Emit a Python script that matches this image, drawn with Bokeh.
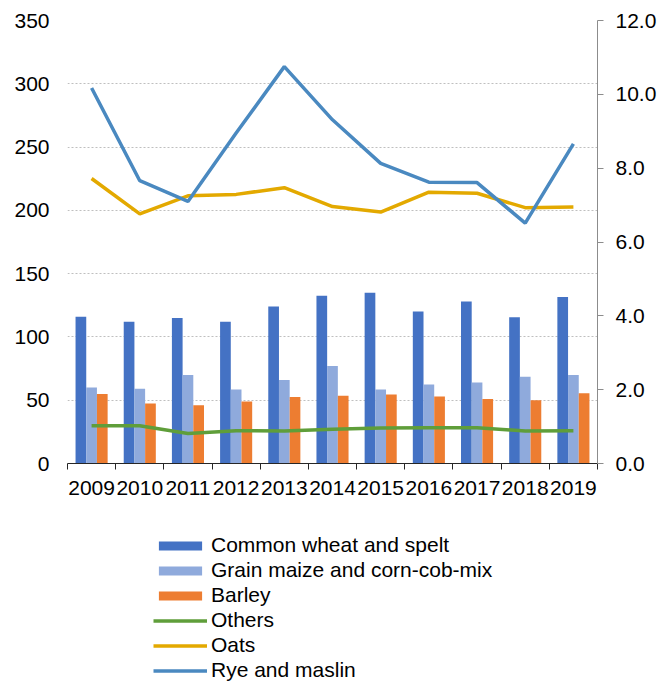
from bokeh.plotting import figure
from bokeh.models import (Range1d, LinearAxis, FixedTicker, ColumnDataSource,
                          Legend, LegendItem, NumeralTickFormatter)
from bokeh.transform import dodge
from bokeh.layouts import column
from bokeh.embed import file_html
from bokeh.resources import INLINE

years = ["2009", "2010", "2011", "2012", "2013", "2014", "2015", "2016", "2017", "2018", "2019"]
wheat = [116, 112, 115, 112, 124, 132.5, 135, 120, 128, 115.5, 131.5]
maize = [60, 59, 70, 58.5, 66, 77, 58.5, 62.5, 64, 68.5, 70]
barley = [55, 47.5, 46, 49, 52.5, 53.5, 54.5, 53, 51, 50, 55.5]
others = [1.02, 1.02, 0.81, 0.89, 0.88, 0.93, 0.96, 0.97, 0.97, 0.88, 0.89]
oats = [7.72, 6.76, 7.25, 7.29, 7.47, 6.96, 6.81, 7.35, 7.32, 6.93, 6.95]
rye = [10.17, 7.66, 7.10, 8.95, 10.75, 9.31, 8.13, 7.62, 7.61, 6.51, 8.66]
left_ticks = [0, 50, 100, 150, 200, 250, 300, 350]
right_ticks = [0, 2, 4, 6, 8, 10, 12]
labels = ["Common wheat and spelt", "Grain maize and corn-cob-mix", "Barley",
          "Others", "Oats", "Rye and maslin"]

FONT = "Liberation Sans"
C_WHEAT, C_MAIZE, C_BARLEY = "#4472C4", "#8FAADC", "#ED7D31"
C_OTHERS, C_OATS, C_RYE = "#5F9E3A", "#E3A900", "#4A89C0"
LW = 3.5

n = len(years)
centers = [i + 0.5 for i in range(n)]
bounds = [float(i) for i in range(n + 1)]

src = ColumnDataSource(dict(x=centers, wheat=wheat, maize=maize, barley=barley,
                            others=others, oats=oats, rye=rye))


def draw_series(fig, xr):
    bw = 0.222
    rs = [
        fig.vbar(x=dodge("x", -bw, range=xr), top="wheat", width=bw, source=src,
                 fill_color=C_WHEAT, line_color=None),
        fig.vbar(x="x", top="maize", width=bw, source=src,
                 fill_color=C_MAIZE, line_color=None),
        fig.vbar(x=dodge("x", bw, range=xr), top="barley", width=bw, source=src,
                 fill_color=C_BARLEY, line_color=None),
        fig.line("x", "others", source=src, y_range_name="right",
                 line_color=C_OTHERS, line_width=LW),
        fig.line("x", "oats", source=src, y_range_name="right",
                 line_color=C_OATS, line_width=LW),
        fig.line("x", "rye", source=src, y_range_name="right",
                 line_color=C_RYE, line_width=LW),
    ]
    return rs


p = figure(width=661, height=515, output_backend="svg", toolbar_location=None,
           x_range=Range1d(0, n), y_range=Range1d(0, 350),
           min_border_left=67, min_border_right=64, min_border_top=20,
           min_border_bottom=52)
p.outline_line_color = None
p.extra_y_ranges = {"right": Range1d(0, 12)}
draw_series(p, p.x_range)

# x axis
xa = p.xaxis[0]
xa.ticker = FixedTicker(ticks=centers, minor_ticks=bounds)
xa.major_label_overrides = {c: y for c, y in zip(centers, years)}
xa.major_tick_out = 0
xa.major_tick_in = 0
xa.minor_tick_out = 6
xa.minor_tick_in = 0
xa.minor_tick_line_color = "#262626"
xa.axis_line_color = "#262626"
xa.major_label_text_font = FONT
xa.major_label_text_font_size = "21px"
xa.major_label_text_color = "black"
xa.major_label_standoff = 11

# left axis
ya = p.yaxis[0]
ya.ticker = FixedTicker(ticks=left_ticks)
ya.axis_line_color = None
ya.major_tick_line_color = None
ya.minor_tick_line_color = None
ya.major_label_text_font = FONT
ya.major_label_text_font_size = "21px"
ya.major_label_text_color = "black"
ya.major_label_standoff = 12

# right axis
ra = LinearAxis(y_range_name="right", ticker=FixedTicker(ticks=right_ticks),
                formatter=NumeralTickFormatter(format="0.0"))
ra.axis_line_color = "#8c8c8c"
ra.major_tick_line_color = "#8c8c8c"
ra.major_tick_out = 6
ra.major_tick_in = 0
ra.minor_tick_line_color = None
ra.major_label_text_font = FONT
ra.major_label_text_font_size = "21px"
ra.major_label_text_color = "black"
ra.major_label_standoff = 12
p.add_layout(ra, "right")

p.xgrid.grid_line_color = None
p.ygrid.grid_line_color = "#bfbfbf"
p.ygrid.grid_line_dash = "2 2"
p.ygrid.grid_line_width = 1

# legend panel: a second figure whose own copies of the series lie outside its view
q = figure(width=661, height=166, output_backend="svg", toolbar_location=None,
           x_range=Range1d(100, 101), y_range=Range1d(1000, 1001),
           x_axis_location=None, y_axis_location=None,
           min_border_left=0, min_border_right=0, min_border_top=0, min_border_bottom=0)
q.extra_y_ranges = {"right": Range1d(1000, 1001)}
q.outline_line_color = None
q.grid.grid_line_color = None
lr = draw_series(q, q.x_range)

legend = Legend(items=[LegendItem(label=l, renderers=[r]) for l, r in zip(labels, lr)],
                location=(86, -1), orientation="vertical")
legend.border_line_color = None
legend.background_fill_alpha = 0
legend.label_text_font = FONT
legend.label_text_font_size = "21px"
legend.label_text_color = "black"
legend.glyph_width = 54
legend.glyph_height = 11
legend.label_height = 20
legend.label_standoff = 4
legend.spacing = 1
legend.padding = 0
legend.margin = 0
q.add_layout(legend)

open("out.html", "w").write(file_html(column(p, q, spacing=0), INLINE))
